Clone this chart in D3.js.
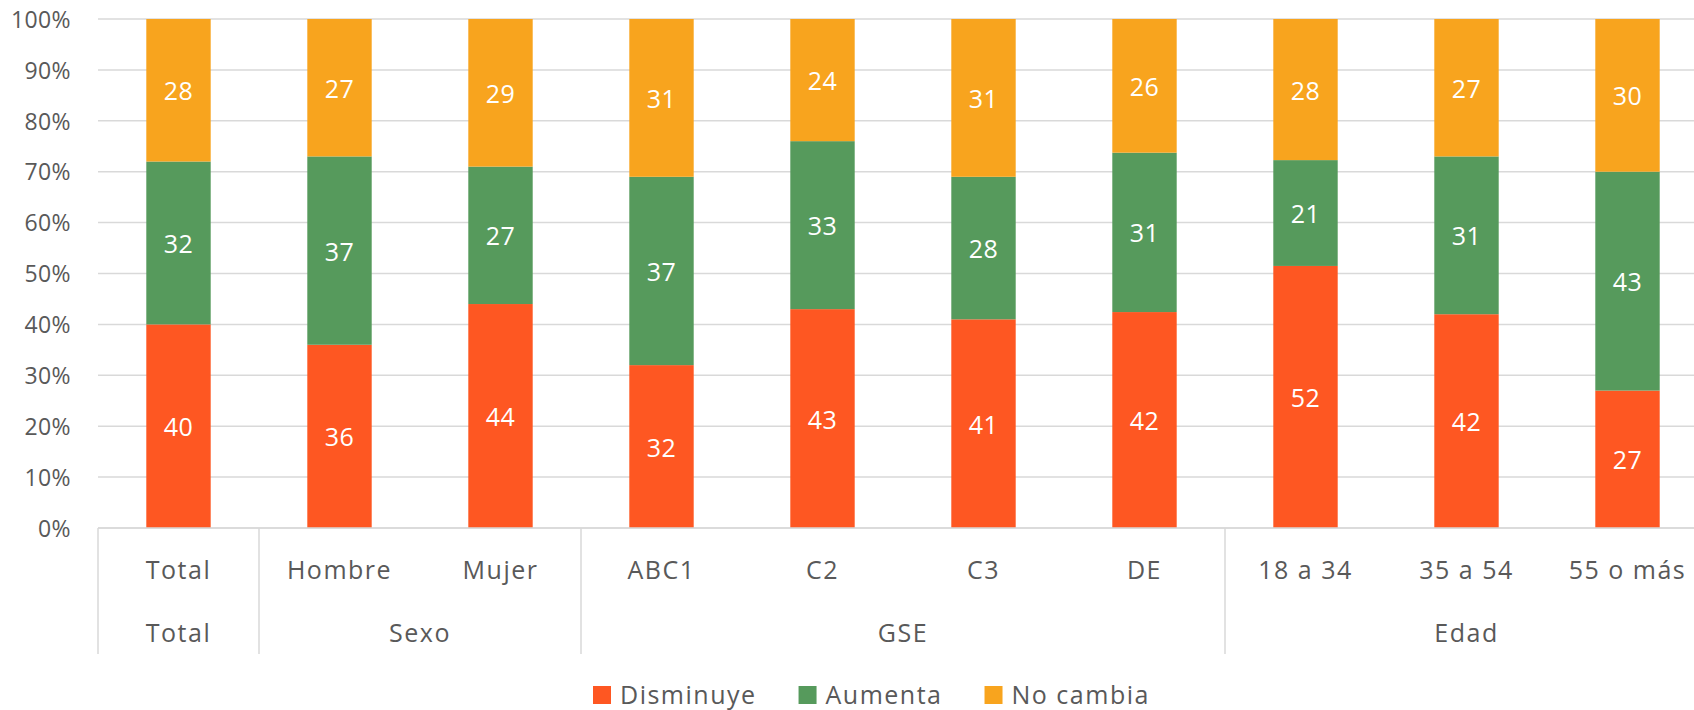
<!DOCTYPE html>
<html>
<head>
<meta charset="utf-8">
<script src="https://cdn.jsdelivr.net/npm/d3@7"></script>
<style>
  html, body { margin: 0; padding: 0; background: #ffffff; overflow: hidden; }
  svg { display: block; }
  text { font-family: "Open Sans", "Noto Sans", sans-serif; }
</style>
</head>
<body>
<svg id="chart" width="1694" height="710"></svg>
<script>
const categories = ["Total", "Hombre", "Mujer", "ABC1", "C2", "C3", "DE", "18 a 34", "35 a 54", "55 o más"];
const groups = ["Total", "Sexo", "GSE", "Edad"];
const groupSizes = [1, 2, 4, 3];
const seriesNames = ["Disminuye", "Aumenta", "No cambia"];
const disminuye = [40, 36, 44, 32, 43, 41, 42, 52, 42, 27];
const aumenta   = [32, 37, 27, 37, 33, 28, 31, 21, 31, 43];
const noCambia  = [28, 27, 29, 31, 24, 31, 26, 28, 27, 30];
const yTicks = [0, 0.1, 0.2, 0.3, 0.4, 0.5, 0.6, 0.7, 0.8, 0.9, 1.0];
const colors = ["#FE5722", "#569A5C", "#F8A41E"];

(function () {
const W = 1694;
const plotLeft = 98, plotRight = 1708, plotTop = 19, plotBottom = 528;
const svg = d3.select("#chart");
const gray = "#595959";

const rows = categories.map((c, i) => ({
  cat: c,
  "Disminuye": disminuye[i],
  "Aumenta": aumenta[i],
  "No cambia": noCambia[i]
}));
const stacked = d3.stack().keys(seriesNames).offset(d3.stackOffsetExpand)(rows);

const x = d3.scaleBand().domain(categories).range([plotLeft, plotRight]).paddingInner(0.6).paddingOuter(0.3);
const y = d3.scaleLinear().domain([0, 1]).range([plotBottom, plotTop]);
const color = d3.scaleOrdinal().domain(seriesNames).range(colors);

// gridlines
svg.append("g").selectAll("line").data(yTicks).join("line")
  .attr("x1", plotLeft).attr("x2", W)
  .attr("y1", d => y(d)).attr("y2", d => y(d))
  .attr("stroke", "#D9D9D9").attr("stroke-width", 1.5);

// y axis labels
const yAxis = d3.axisLeft(y).tickValues(yTicks).tickFormat(d3.format(".0%")).tickSize(0).tickPadding(0);
const yg = svg.append("g").attr("transform", `translate(${plotLeft - 27},0)`).call(yAxis);
yg.select(".domain").remove();
yg.selectAll("text").attr("fill", gray).style("font-size", "23px")
  .style("letter-spacing", "0.4px")
  .style("font-family", "'Open Sans', sans-serif").attr("dy", "0.36em");

// bars
const layers = svg.append("g").selectAll("g").data(stacked).join("g").attr("fill", d => color(d.key));
layers.selectAll("rect").data(d => d).join("rect")
  .attr("x", d => x(d.data.cat))
  .attr("width", x.bandwidth())
  .attr("y", d => y(d[1]))
  .attr("height", d => y(d[0]) - y(d[1]));

// data labels
const labG = svg.append("g");
stacked.forEach(s => {
  labG.append("g").selectAll("text").data(s).join("text")
    .attr("x", d => x(d.data.cat) + x.bandwidth() / 2)
    .attr("y", d => (y(d[0]) + y(d[1])) / 2)
    .attr("text-anchor", "middle")
    .attr("dominant-baseline", "central")
    .attr("fill", "#ffffff")
    .style("font-size", "25px")
    .style("letter-spacing", "0.5px")
    .text(d => d.data[s.key]);
});

// bottom axis line
svg.append("line").attr("x1", plotLeft).attr("x2", W).attr("y1", plotBottom).attr("y2", plotBottom)
  .attr("stroke", "#D9D9D9").attr("stroke-width", 1.5);

// category labels
const xAxis = d3.axisBottom(x).tickSize(0).tickPadding(0);
const xg = svg.append("g").attr("transform", `translate(0,${plotBottom + 42})`).call(xAxis);
xg.select(".domain").remove();
xg.selectAll("text").attr("fill", gray).attr("dy", "0.36em").attr("y", 0)
  .style("font-size", "25px").style("letter-spacing", "1.5px")
  .style("font-family", "'Open Sans', sans-serif");

// group separators and labels
const step = x.step();
let idx = 0;
const bounds = [0];
groupSizes.forEach(n => { idx += n; bounds.push(idx); });
svg.append("g").selectAll("line").data(bounds).join("line")
  .attr("x1", d => plotLeft + d * step).attr("x2", d => plotLeft + d * step)
  .attr("y1", plotBottom).attr("y2", 654)
  .attr("stroke", "#D9D9D9").attr("stroke-width", 1.5);
svg.append("g").selectAll("text").data(groups).join("text")
  .attr("x", (g, i) => {
    const a = x(categories[bounds[i]]) + x.bandwidth() / 2;
    const b = x(categories[bounds[i + 1] - 1]) + x.bandwidth() / 2;
    return (a + b) / 2;
  })
  .attr("y", 632)
  .attr("text-anchor", "middle").attr("dominant-baseline", "central")
  .attr("fill", gray).style("font-size", "25px").style("letter-spacing", "1.5px")
  .text(d => d);

// legend
const lg = svg.append("g");
let lx = 593;
seriesNames.forEach(name => {
  lg.append("rect").attr("x", lx).attr("y", 686).attr("width", 18).attr("height", 18).attr("fill", color(name));
  const t = lg.append("text").attr("x", lx + 27).attr("y", 694).attr("dominant-baseline", "central")
    .attr("fill", gray).style("font-size", "25px").style("letter-spacing", "1.5px").text(name);
  lx += 27 + t.node().getComputedTextLength() + 42;
});
})();
</script>
</body>
</html>
